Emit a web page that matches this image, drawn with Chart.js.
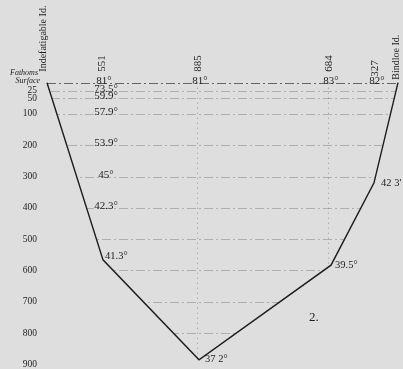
<!DOCTYPE html>
<html>
<head>
<meta charset="utf-8">
<script src="https://cdn.jsdelivr.net/npm/chart.js@4/dist/chart.umd.min.js"></script>
<style>
  html, body { margin: 0; padding: 0; background: #dedede; overflow: hidden; }
  #wrap { width: 403px; height: 369px; position: relative; }
</style>
</head>
<body>
<div id="wrap"><canvas id="c"></canvas></div>
<script>
// Depth scale (fathoms) tick labels
const depthTicks = [25, 50, 100, 200, 300, 400, 500, 600, 700, 800, 900];
// Sea-bottom profile: distance along section (arbitrary units from Indefatigable Id.) and depth in fathoms
const profileDist  = [0, 56, 152, 284, 327, 351];
const profileDepth = [0, 566, 885, 583, 320, 0];
// Bottom temperatures at the inner profile points (index 1..4)
const bottomTemps = ['41.3°', '37 2°', '39.5°', '42 3\''];
// Sounding stations
const stationNames = ['551', '885', '684', '327'];
const stationDist  = [54, 150, 281, 327];
const surfaceTemps = ['81°', '81°', '83°', '82°'];
// Serial temperatures at station 551
const serialDepths = [25, 50, 100, 200, 300, 400];
const serialTemps  = ['73.5°', '59.9°', '57.9°', '53.9°', '45°', '42.3°'];
// Coast names
const coastNames = ['Indefatigable Id.', 'Bindloe Id.'];
const plateNumber = '2.';

const INK = '#1e1e1e';
const GRID = 'rgba(110,110,110,0.42)';

const sectionPlugin = {
  id: 'section',
  beforeDraw(chart) {
    const ctx = chart.ctx;
    ctx.save();
    ctx.fillStyle = '#dedede';
    ctx.fillRect(0, 0, chart.width, chart.height);
    ctx.restore();
  },
  beforeDatasetsDraw(chart) {
    const ctx = chart.ctx;
    const xs = chart.scales.x, ys = chart.scales.y;
    const pts = profileDist.map((d, i) => [xs.getPixelForValue(d), ys.getPixelForValue(profileDepth[i])]);
    ctx.save();
    // clip to water body
    ctx.beginPath();
    pts.forEach((p, i) => i ? ctx.lineTo(p[0], p[1]) : ctx.moveTo(p[0], p[1]));
    ctx.closePath();
    ctx.clip();
    ctx.strokeStyle = GRID;
    ctx.lineWidth = 1;
    ctx.setLineDash([9, 3, 2, 3]);
    depthTicks.forEach(v => {
      const y = Math.round(ys.getPixelForValue(v)) + 0.5;
      ctx.beginPath();
      ctx.moveTo(0, y);
      ctx.lineTo(chart.width, y);
      ctx.stroke();
    });
    ctx.setLineDash([1, 4]);
    ctx.strokeStyle = 'rgba(90,90,90,0.5)';
    [1, 2].forEach(i => {
      const x = Math.round(xs.getPixelForValue(stationDist[i])) + 0.5;
      ctx.beginPath();
      ctx.moveTo(x, ys.getPixelForValue(0));
      ctx.lineTo(x, chart.height);
      ctx.stroke();
    });
    ctx.restore();
    // surface line
    ctx.save();
    ctx.strokeStyle = 'rgba(60,60,60,0.75)';
    ctx.setLineDash([9, 3, 2, 3]);
    const y0 = Math.round(ys.getPixelForValue(0)) + 0.5;
    ctx.beginPath();
    ctx.moveTo(pts[0][0], y0);
    ctx.lineTo(pts[pts.length - 1][0], y0);
    ctx.stroke();
    ctx.restore();
  },
  afterDatasetsDraw(chart) {
    const ctx = chart.ctx;
    const xs = chart.scales.x, ys = chart.scales.y;
    ctx.save();
    ctx.fillStyle = INK;
    const serif = '"Liberation Serif", "DejaVu Serif", serif';
    // depth labels
    ctx.font = '9.5px ' + serif;
    ctx.textAlign = 'right';
    ctx.textBaseline = 'middle';
    depthTicks.forEach(v => ctx.fillText(String(v), 37, ys.getPixelForValue(v)));
    ctx.font = 'italic 8px ' + serif;
    ctx.textAlign = 'right';
    ctx.fillText('Fathoms', 38, ys.getPixelForValue(0) - 10);
    ctx.fillText('Surface', 40, ys.getPixelForValue(0) - 2);
    // station names (rotated)
    ctx.font = '11px ' + serif;
    stationNames.forEach((s, i) => {
      const x = xs.getPixelForValue(stationDist[i]);
      ctx.save();
      ctx.translate(x + 1, ys.getPixelForValue(0) - 11 + (i === 3 ? 5 : 0));
      ctx.rotate(-Math.PI / 2);
      ctx.textAlign = 'left';
      ctx.textBaseline = 'middle';
      ctx.fillText(s, 0, 0);
      ctx.restore();
    });
    // coast names
    ctx.font = '10px ' + serif;
    [[0, -4, -11], [profileDist.length - 1, -2, -3]].forEach(([idx, dx, dy], k) => {
      const x = xs.getPixelForValue(profileDist[idx]);
      ctx.save();
      ctx.translate(x + dx, ys.getPixelForValue(0) + dy);
      ctx.rotate(-Math.PI / 2);
      ctx.textAlign = 'left';
      ctx.textBaseline = 'middle';
      ctx.fillText(coastNames[k], 0, 0);
      ctx.restore();
    });
    // surface temps
    ctx.font = '11px ' + serif;
    ctx.textAlign = 'center';
    ctx.textBaseline = 'alphabetic';
    surfaceTemps.forEach((t, i) => {
      ctx.fillText(t, xs.getPixelForValue(stationDist[i]) + 3, ys.getPixelForValue(0) + 1);
    });
    // serial temps at 551
    serialTemps.forEach((t, i) => {
      ctx.fillText(t, xs.getPixelForValue(stationDist[0]) + 5, ys.getPixelForValue(serialDepths[i]) + 1);
    });
    // bottom temps
    ctx.textAlign = 'left';
    ctx.textBaseline = 'middle';
    ctx.font = '10.5px ' + serif;
    const offs = [[2, -4], [6, 0], [4, 0], [7, 0]];
    bottomTemps.forEach((t, i) => {
      const x = xs.getPixelForValue(profileDist[i + 1]);
      const y = ys.getPixelForValue(profileDepth[i + 1]);
      ctx.fillText(t, x + offs[i][0], y + offs[i][1]);
    });
    // plate number
    ctx.font = '13px ' + serif;
    ctx.textAlign = 'left';
    ctx.fillText(plateNumber, xs.getPixelForValue(262), ys.getPixelForValue(750));
    ctx.restore();
  }
};

new Chart(document.getElementById('c'), {
  type: 'scatter',
  data: {
    datasets: [{
      data: profileDist.map((d, i) => ({ x: d, y: profileDepth[i] })),
      showLine: true,
      borderColor: '#1c1c1c',
      borderWidth: 1.4,
      pointRadius: 0,
      tension: 0,
      fill: false
    }]
  },
  options: {
    responsive: true,
    maintainAspectRatio: false,
    animation: false,
    layout: { padding: 0 },
    plugins: { legend: { display: false }, tooltip: { enabled: false } },
    scales: {
      x: { type: 'linear', display: false, min: -47, max: 356 },
      y: { type: 'linear', display: false, reverse: true, min: -264.2, max: 914.7 }
    }
  },
  plugins: [sectionPlugin]
});
</script>
</body>
</html>
